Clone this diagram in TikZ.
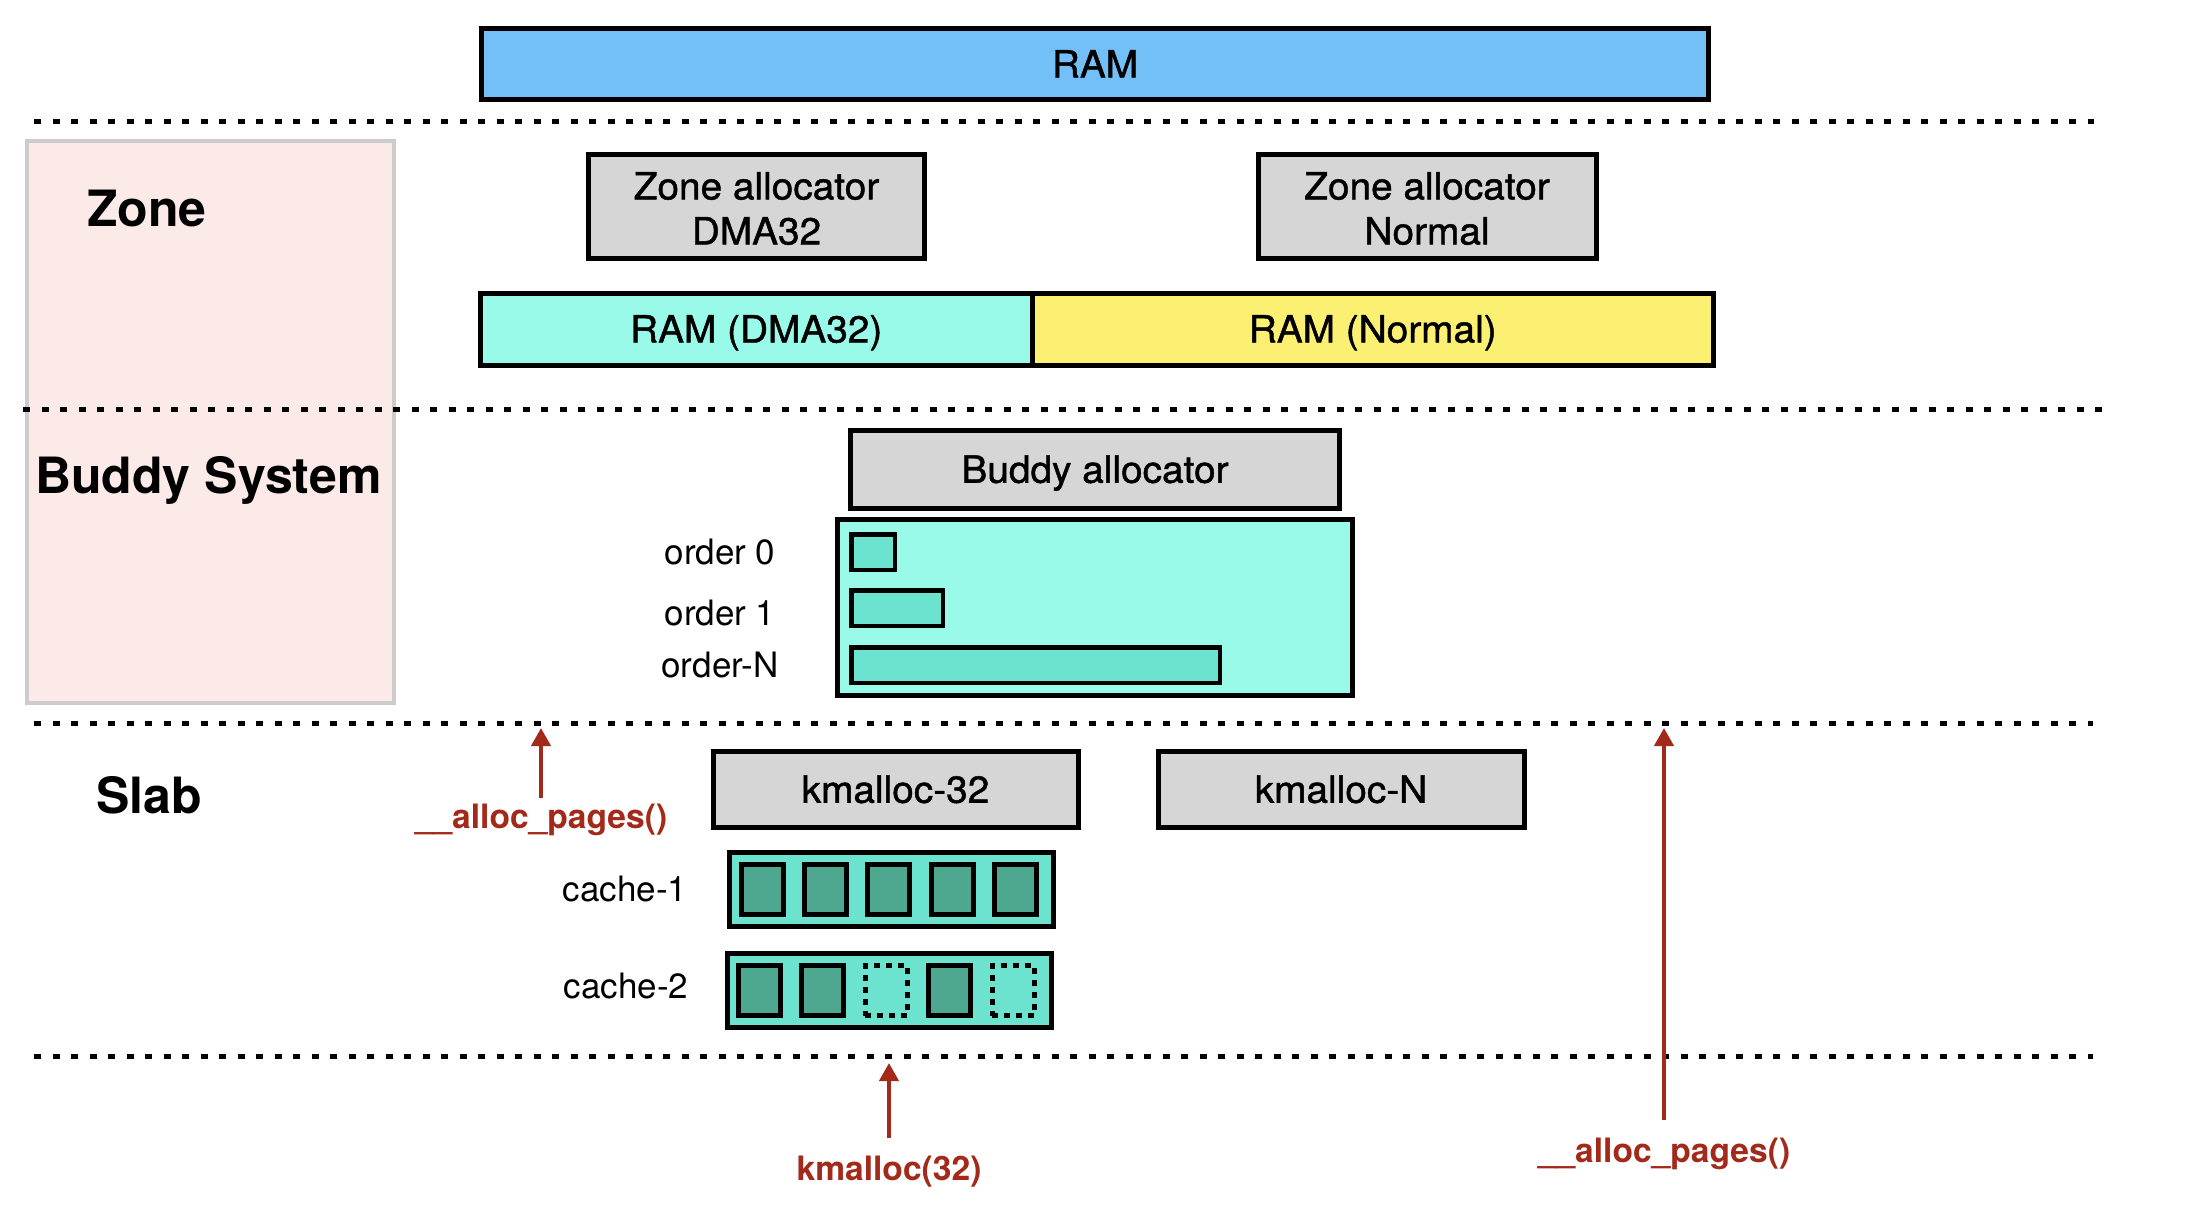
\documentclass[tikz,border=0pt]{standalone}
\usepackage{fontspec}
\setmainfont{TeX Gyre Heros}
\newfontfamily\medfont[FakeBold=1.2, FakeStretch=1.035]{TeX Gyre Heros}
\usetikzlibrary{arrows.meta}
\definecolor{ramblue}{RGB}{115,191,247}
\definecolor{ramcyan}{RGB}{153,250,233}
\definecolor{ramyellow}{RGB}{251,240,114}
\definecolor{boxgray}{RGB}{214,214,214}
\definecolor{cellteal}{RGB}{108,227,206}
\definecolor{celldark}{RGB}{77,168,143}
\definecolor{panelpink}{RGB}{252,234,232}
\definecolor{panelborder}{RGB}{204,204,204}
\definecolor{callred}{RGB}{163,42,26}
\begin{document}
\begin{tikzpicture}[x=1pt,y=-1pt,
  boxfont/.style={font=\medfont\fontsize{37.5}{45}\selectfont},
  membox/.style={draw, line width=5pt, inner sep=0pt, boxfont, text height=27pt, text depth=0pt},
  graybox/.style={membox, fill=boxgray},
  smallbar/.style={draw, line width=4.5pt, fill=cellteal, inner sep=0pt, minimum height=35.5pt},
  cell/.style={draw, line width=5pt, fill=celldark, inner sep=0pt, minimum width=42pt, minimum height=50.6pt},
  freecell/.style={cell, fill=cellteal, dash pattern=on 6pt off 6pt},
  cachebox/.style={draw, line width=5pt, fill=cellteal, inner sep=0pt, minimum width=324pt, minimum height=74pt},
  header/.style={inner sep=0pt, font=\fontsize{50}{58}\selectfont\bfseries},
  sidelbl/.style={inner sep=0pt, anchor=base, font=\fontsize{35}{42}\selectfont},
  redlbl/.style={inner sep=0pt, anchor=base, text=callred, font=\fontsize{33.6}{40}\selectfont\bfseries},
  redarrow/.style={draw=callred, line width=4pt, -{Triangle[width=19pt,length=18pt]}},
  sep/.style={line width=5pt, dash pattern=on 7pt off 11.5pt}
]
\useasboundingbox (0,0) rectangle (2188,1216);

% left panel
\node[draw=panelborder, line width=4pt, fill=panelpink, minimum width=367pt, minimum height=562pt, inner sep=0pt] (zonepanel) at (210.5,422) {};

% separators
\coordinate (s1a) at (34,121);  \coordinate (s1b) at (2094,121);
\coordinate (s2a) at (23,409);  \coordinate (s2b) at (2103,409);
\coordinate (s3a) at (34,723);  \coordinate (s3b) at (2093,723);
\coordinate (s4a) at (34,1056); \coordinate (s4b) at (2093,1056);
\draw[sep] (s1a) -- (s1b);
\draw[sep] (s2a) -- (s2b);
\draw[sep] (s3a) -- (s3b);
\draw[sep] (s4a) -- (s4b);

% headers
\node[header, anchor=base west] (hzone) at (87,226) {Zone};
\node[header, anchor=base west] (hbuddy) at (35,493) {Buddy System};
\node[header, anchor=base west] (hslab) at (96,813) {Slab};

% RAM
\node[membox, fill=ramblue, minimum width=1227pt, minimum height=71pt] (ram) at (1095,64) {RAM};

% Zone allocators
\node[graybox, minimum width=336pt, minimum height=104pt] (zdma) at (756.5,206.5) {};
\node[boxfont, align=center, inner sep=0pt] (zdmat) at ([yshift=-2pt]zdma.center) {Zone allocator\\DMA32};
\node[graybox, minimum width=338pt, minimum height=104pt] (znorm) at (1427,206.5) {};
\node[boxfont, align=center, inner sep=0pt] (znormt) at ([yshift=-2pt]znorm.center) {Zone allocator\\Normal};

\node[membox, fill=ramcyan, minimum width=551.5pt, minimum height=72pt] (rdma) at (756.25,329) {RAM (DMA32)};
\node[membox, fill=ramyellow, minimum width=681.5pt, minimum height=72pt] (rnorm) at (1372.75,329) {RAM (Normal)};

% Buddy
\node[graybox, minimum width=489pt, minimum height=78.5pt] (buddy) at (1095,469.25) {Buddy allocator};
\node[draw, line width=5pt, fill=ramcyan, inner sep=0pt, minimum width=515pt, minimum height=176pt] (bpanel) at (1095,607.5) {};
\node[smallbar, minimum width=43.5pt] (o0) at (873,552) {};
\node[smallbar, minimum width=91.5pt] (o1) at (897,608) {};
\node[smallbar, minimum width=368.5pt] (oN) at (1035.5,665) {};
\node[sidelbl] (lo0) at (720,564) {order 0};
\node[sidelbl] (lo1) at (720,625) {order 1};
\node[sidelbl] (loN) at (720,677) {order-N};

% Slab
\node[graybox, minimum width=365pt, minimum height=76.5pt] (k32) at (895.5,789.25) {kmalloc-32};
\node[graybox, minimum width=366pt, minimum height=76.5pt] (kN) at (1341,789.25) {kmalloc-N};

\node[cachebox] (cache1) at (891.5,889.5) {};
\node[cell] (c1a) at (762,889.5) {};
\node[cell] (c1b) at (825.4,889.5) {};
\node[cell] (c1c) at (888.8,889.5) {};
\node[cell] (c1d) at (952.2,889.5) {};
\node[cell] (c1e) at (1015.6,889.5) {};

\node[cachebox, minimum width=323.5pt] (cache2) at (889.25,990.5) {};
\node[cell] (c2a) at (759,990.5) {};
\node[cell] (c2b) at (822.5,990.5) {};
\node[freecell] (c2c) at (886,990.5) {};
\node[cell] (c2d) at (949.5,990.5) {};
\node[freecell] (c2e) at (1013,990.5) {};

\node[sidelbl] (lc1) at (625,901) {cache-1};
\node[sidelbl] (lc2) at (626,998) {cache-2};

% calls
\node[redlbl] (callA) at (541,828) {\_\_alloc\_pages()};
\coordinate (tailA) at (541,798); \coordinate (tipA) at (541,728);
\draw[redarrow] (tailA) -- (tipA);

\node[redlbl] (callB) at (889,1180) {kmalloc(32)};
\coordinate (tailB) at (889,1138); \coordinate (tipB) at (889,1063);
\draw[redarrow] (tailB) -- (tipB);

\node[redlbl] (callC) at (1664,1162) {\_\_alloc\_pages()};
\coordinate (tailC) at (1664,1120); \coordinate (tipC) at (1664,728);
\draw[redarrow] (tailC) -- (tipC);
\end{tikzpicture}
\end{document}
